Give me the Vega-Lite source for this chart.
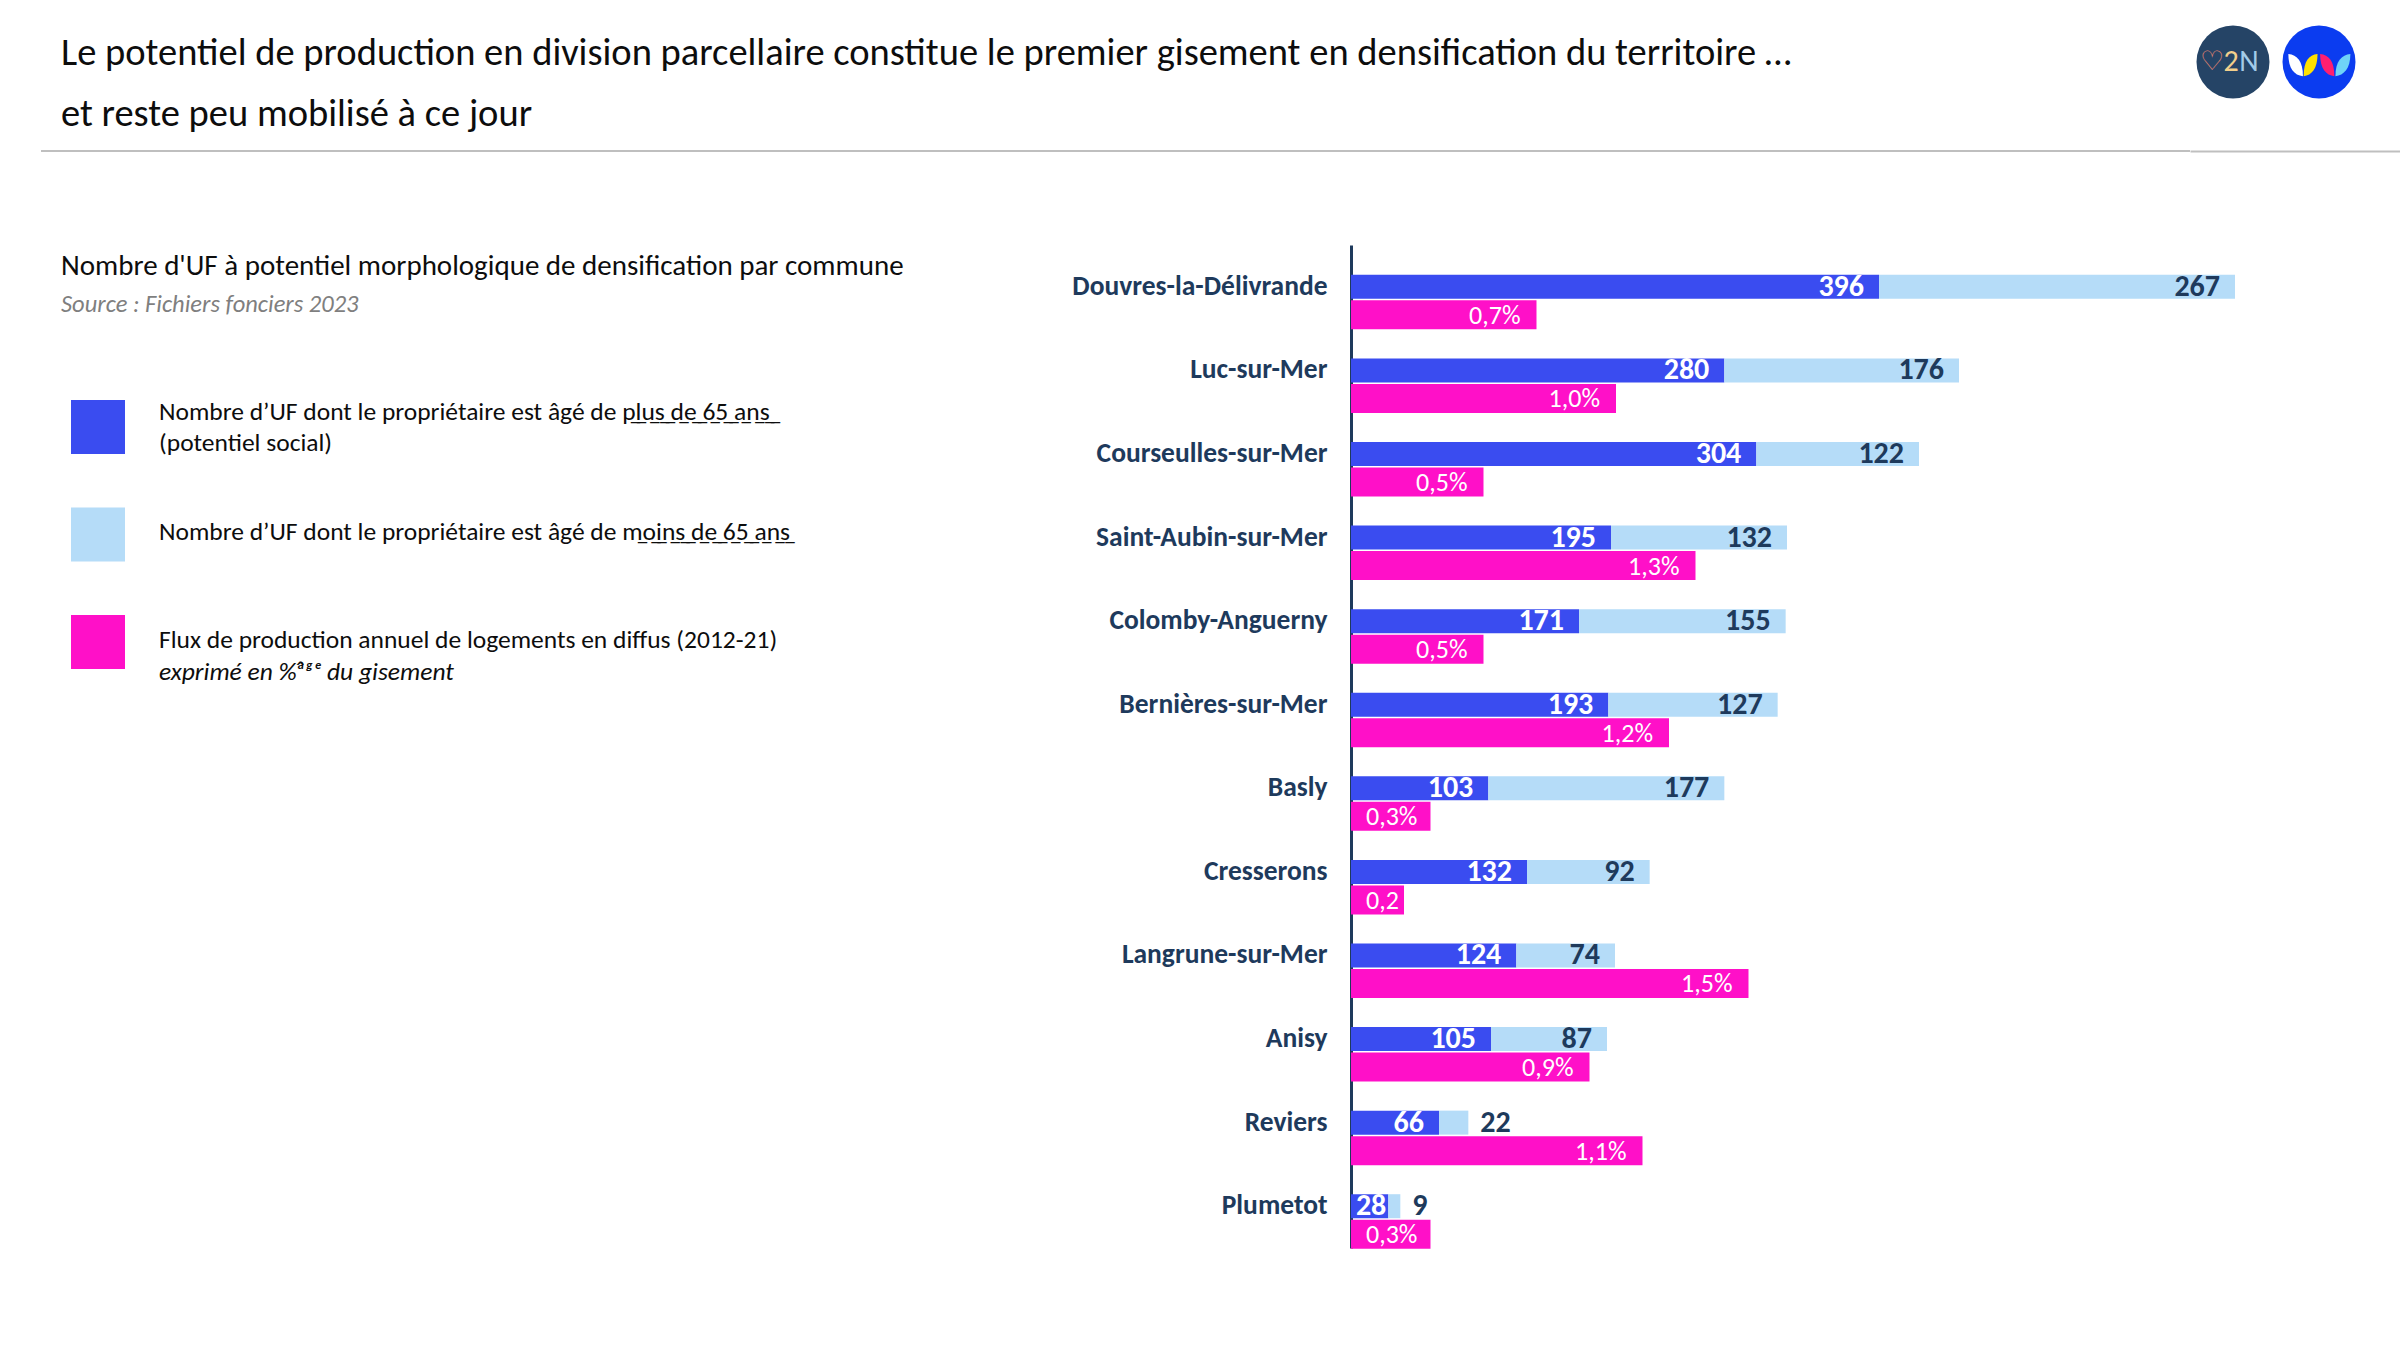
{
  "$schema": "https://vega.github.io/schema/vega-lite/v6.json",
  "background": "white",
  "padding": {"left": 40, "top": 24, "right": 0, "bottom": 0},
  "autosize": {"type": "pad"},
  "config": {
    "view": {"stroke": null},
    "font": "Carlito, Lato, sans-serif",
    "locale": {
      "number": {"decimal": ",", "thousands": "\u00a0", "grouping": [3], "currency": ["", "\u00a0€"], "percent": "%"}
    }
  },
  "datasets": {
    "uf": [
      {"commune": "Douvres-la-Délivrande", "serie": "plus de 65 ans", "uf": 396},
      {"commune": "Douvres-la-Délivrande", "serie": "moins de 65 ans", "uf": 267},
      {"commune": "Luc-sur-Mer", "serie": "plus de 65 ans", "uf": 280},
      {"commune": "Luc-sur-Mer", "serie": "moins de 65 ans", "uf": 176},
      {"commune": "Courseulles-sur-Mer", "serie": "plus de 65 ans", "uf": 304},
      {"commune": "Courseulles-sur-Mer", "serie": "moins de 65 ans", "uf": 122},
      {"commune": "Saint-Aubin-sur-Mer", "serie": "plus de 65 ans", "uf": 195},
      {"commune": "Saint-Aubin-sur-Mer", "serie": "moins de 65 ans", "uf": 132},
      {"commune": "Colomby-Anguerny", "serie": "plus de 65 ans", "uf": 171},
      {"commune": "Colomby-Anguerny", "serie": "moins de 65 ans", "uf": 155},
      {"commune": "Bernières-sur-Mer", "serie": "plus de 65 ans", "uf": 193},
      {"commune": "Bernières-sur-Mer", "serie": "moins de 65 ans", "uf": 127},
      {"commune": "Basly", "serie": "plus de 65 ans", "uf": 103},
      {"commune": "Basly", "serie": "moins de 65 ans", "uf": 177},
      {"commune": "Cresserons", "serie": "plus de 65 ans", "uf": 132},
      {"commune": "Cresserons", "serie": "moins de 65 ans", "uf": 92},
      {"commune": "Langrune-sur-Mer", "serie": "plus de 65 ans", "uf": 124},
      {"commune": "Langrune-sur-Mer", "serie": "moins de 65 ans", "uf": 74},
      {"commune": "Anisy", "serie": "plus de 65 ans", "uf": 105},
      {"commune": "Anisy", "serie": "moins de 65 ans", "uf": 87},
      {"commune": "Reviers", "serie": "plus de 65 ans", "uf": 66},
      {"commune": "Reviers", "serie": "moins de 65 ans", "uf": 22},
      {"commune": "Plumetot", "serie": "plus de 65 ans", "uf": 28},
      {"commune": "Plumetot", "serie": "moins de 65 ans", "uf": 9}
    ],
    "flux": [
      {"commune": "Douvres-la-Délivrande", "serie": "flux annuel", "flux": 0.007},
      {"commune": "Luc-sur-Mer", "serie": "flux annuel", "flux": 0.010},
      {"commune": "Courseulles-sur-Mer", "serie": "flux annuel", "flux": 0.005},
      {"commune": "Saint-Aubin-sur-Mer", "serie": "flux annuel", "flux": 0.013},
      {"commune": "Colomby-Anguerny", "serie": "flux annuel", "flux": 0.005},
      {"commune": "Bernières-sur-Mer", "serie": "flux annuel", "flux": 0.012},
      {"commune": "Basly", "serie": "flux annuel", "flux": 0.003},
      {"commune": "Cresserons", "serie": "flux annuel", "flux": 0.002},
      {"commune": "Langrune-sur-Mer", "serie": "flux annuel", "flux": 0.015},
      {"commune": "Anisy", "serie": "flux annuel", "flux": 0.009},
      {"commune": "Reviers", "serie": "flux annuel", "flux": 0.011},
      {"commune": "Plumetot", "serie": "flux annuel", "flux": 0.003}
    ],
    "legende": [
      {"serie": "plus de 65 ans", "ligne1": "Nombre d’UF dont le propriétaire est âgé de p̲l̲u̲s̲ ̲d̲e̲ ̲6̲5̲ ̲a̲n̲s̲ ̲", "ligne2": "(potentiel social)"},
      {"serie": "moins de 65 ans", "ligne1": "Nombre d’UF dont le propriétaire est âgé de m̲o̲i̲n̲s̲ ̲d̲e̲ ̲6̲5̲ ̲a̲n̲s̲", "ligne2": ""},
      {"serie": "flux annuel", "ligne1": "Flux de production annuel de logements en diffus (2012-21)", "ligne2": "exprimé en %ᵃ̂ᵍᵉ du gisement"}
    ],
    "logos": [
      {"logo": "c2n"},
      {"logo": "urbanis"}
    ],
    "filet": [
      {"trait": "séparation"}
    ]
  },
  "bounds": "flush",
  "spacing": 221,
  "vconcat": [
    {
      "bounds": "flush",
      "spacing": 0,
      "hconcat": [
        {
          "width": 2149,
          "height": 127,
          "title": {
            "text": [
              "Le potentiel de production en division parcellaire constitue le premier gisement en densification du territoire …",
              "et reste peu mobilisé à ce jour"
            ],
            "anchor": "start",
            "frame": "group",
            "orient": "top",
            "baseline": "alphabetic",
            "dx": 20,
            "dy": 144,
            "fontSize": 38.5,
            "fontWeight": "normal",
            "color": "#0d0d0d",
            "lineHeight": 61,
            "limit": 3000
          },
          "data": {"name": "filet"},
          "mark": {"type": "rule", "color": "#bfbfbf", "strokeWidth": 2},
          "encoding": {
            "y": {"datum": 0, "type": "quantitative", "scale": {"domain": [0, 1]}, "axis": null}
          }
        },
        {
          "width": 211,
          "height": 76,
          "data": {"name": "logos"},
          "encoding": {
            "x": {
              "field": "logo",
              "type": "nominal",
              "scale": {"type": "band", "domain": ["c2n", "urbanis"], "paddingInner": 0, "paddingOuter": 0.2267, "align": 0},
              "axis": {
                "orient": "bottom",
                "offset": 51,
                "domainColor": "#bfbfbf",
                "domainWidth": 2,
                "ticks": false,
                "labels": false,
                "title": null,
                "grid": false
              }
            }
          },
          "layer": [
            {
              "transform": [{"filter": "datum.logo == 'c2n'"}],
              "mark": {"type": "point", "shape": "circle", "filled": true, "size": 5329, "color": "#254466", "opacity": 1}
            },
            {
              "transform": [{"filter": "datum.logo == 'c2n'"}],
              "mark": {"type": "text", "text": "♡", "dx": -21, "fontSize": 27, "color": "#e8876f", "baseline": "middle"}
            },
            {
              "transform": [{"filter": "datum.logo == 'c2n'"}],
              "mark": {"type": "text", "text": "2", "dx": -2, "fontSize": 30, "color": "#f2cf8c", "baseline": "middle"}
            },
            {
              "transform": [{"filter": "datum.logo == 'c2n'"}],
              "mark": {"type": "text", "text": "N", "dx": 16, "fontSize": 30, "color": "#a3cbe8", "baseline": "middle"}
            },
            {
              "transform": [{"filter": "datum.logo == 'urbanis'"}],
              "mark": {"type": "point", "shape": "circle", "filled": true, "size": 5329, "color": "#0b3cf0", "opacity": 1}
            },
            {
              "transform": [{"filter": "datum.logo == 'urbanis'"}],
              "mark": {"type": "point", "filled": true, "size": 5329, "color": "#ffffff", "opacity": 1, "strokeWidth": 0,
                "shape": "M-0.84,-0.22 C-0.6,-0.2 -0.44,-0.02 -0.44,0.39 C-0.68,0.36 -0.84,0.18 -0.84,-0.22 Z"}
            },
            {
              "transform": [{"filter": "datum.logo == 'urbanis'"}],
              "mark": {"type": "point", "filled": true, "size": 5329, "color": "#ffe100", "opacity": 1, "strokeWidth": 0,
                "shape": "M-0.04,-0.22 C-0.28,-0.2 -0.42,-0.02 -0.42,0.39 C-0.2,0.36 -0.04,0.18 -0.04,-0.22 Z"}
            },
            {
              "transform": [{"filter": "datum.logo == 'urbanis'"}],
              "mark": {"type": "point", "filled": true, "size": 5329, "color": "#ff1f70", "opacity": 1, "strokeWidth": 0,
                "shape": "M0.03,-0.22 C0.27,-0.2 0.42,-0.02 0.42,0.39 C0.19,0.36 0.03,0.18 0.03,-0.22 Z"}
            },
            {
              "transform": [{"filter": "datum.logo == 'urbanis'"}],
              "mark": {"type": "point", "filled": true, "size": 5329, "color": "#6fd3f7", "opacity": 1, "strokeWidth": 0,
                "shape": "M0.86,-0.22 C0.62,-0.2 0.45,-0.02 0.45,0.39 C0.68,0.36 0.86,0.18 0.86,-0.22 Z"}
            }
          ]
        }
      ]
    },
    {
      "bounds": "flush",
      "spacing": 1196,
      "hconcat": [
        {
          "width": 114,
          "height": 537.5,
          "title": {
            "text": "Nombre d'UF à potentiel morphologique de densification par commune",
            "subtitle": "Source : Fichiers fonciers 2023",
            "anchor": "start",
            "frame": "group",
            "orient": "top",
            "dx": 20,
            "dy": 75,
            "fontSize": 29,
            "fontWeight": "normal",
            "color": "#0d0d0d",
            "subtitleFontSize": 24.5,
            "subtitleFontStyle": "italic",
            "subtitleColor": "#7f7f7f",
            "subtitlePadding": 12,
            "limit": 3000
          },
          "data": {"name": "legende"},
          "encoding": {
            "y": {
              "field": "serie",
              "type": "nominal",
              "sort": null,
              "scale": {"type": "band", "paddingInner": 0, "paddingOuter": 1, "align": 0.5965},
              "axis": null
            }
          },
          "layer": [
            {
              "mark": {"type": "square", "size": 2916, "opacity": 1},
              "encoding": {
                "color": {
                  "field": "serie",
                  "type": "nominal",
                  "scale": {"domain": ["plus de 65 ans", "moins de 65 ans", "flux annuel"], "range": ["#3a4cf0", "#b5dcf8", "#ff10c8"]},
                  "legend": null
                }
              }
            },
            {
              "transform": [{"filter": "datum.serie != 'plus de 65 ans'"}],
              "mark": {"type": "text", "align": "left", "baseline": "alphabetic", "dx": 61, "dy": 6, "fontSize": 25.5, "color": "#0d0d0d"},
              "encoding": {"text": {"field": "ligne1", "type": "nominal"}}
            },
            {
              "transform": [{"filter": "datum.serie == 'plus de 65 ans'"}],
              "mark": {"type": "text", "align": "left", "baseline": "alphabetic", "dx": 61, "dy": -7, "fontSize": 25.5, "color": "#0d0d0d"},
              "encoding": {"text": {"field": "ligne1", "type": "nominal"}}
            },
            {
              "transform": [{"filter": "datum.serie == 'plus de 65 ans'"}],
              "mark": {"type": "text", "align": "left", "baseline": "alphabetic", "dx": 61, "dy": 24, "fontSize": 25.5, "color": "#0d0d0d"},
              "encoding": {"text": {"field": "ligne2", "type": "nominal"}}
            },
            {
              "transform": [{"filter": "datum.serie == 'flux annuel'"}],
              "mark": {"type": "text", "align": "left", "baseline": "alphabetic", "dx": 61, "dy": 38, "fontSize": 25.5, "fontStyle": "italic", "color": "#0d0d0d"},
              "encoding": {"text": {"field": "ligne2", "type": "nominal"}}
            }
          ]
        },
        {
          "width": 1000,
          "height": 1003,
          "encoding": {
            "y": {
              "field": "commune",
              "type": "nominal",
              "sort": ["Douvres-la-Délivrande", "Luc-sur-Mer", "Courseulles-sur-Mer", "Saint-Aubin-sur-Mer", "Colomby-Anguerny", "Bernières-sur-Mer", "Basly", "Cresserons", "Langrune-sur-Mer", "Anisy", "Reviers", "Plumetot"],
              "scale": {"type": "band", "paddingInner": 0, "paddingOuter": 0},
              "axis": {
                "title": null,
                "domain": true,
                "domainColor": "#1e3a5c",
                "domainWidth": 3,
                "ticks": false,
                "tickSize": 0,
                "grid": false,
                "labelFontSize": 27.5,
                "labelFontWeight": "bold",
                "labelColor": "#1e3a5c",
                "labelPadding": 24,
                "labelLimit": 600
              }
            }
          },
          "layer": [
            {
              "data": {"name": "uf"},
              "encoding": {
                "x": {
                  "field": "uf",
                  "type": "quantitative",
                  "stack": "zero",
                  "scale": {"domain": [0, 750], "nice": false, "zero": true},
                  "axis": null
                },
                "order": {"field": "serie", "sort": "descending"},
                "detail": {"field": "serie"}
              },
              "layer": [
                {
                  "mark": {"type": "bar", "height": 24},
                  "encoding": {
                    "color": {
                      "field": "serie",
                      "type": "nominal",
                      "scale": {"domain": ["plus de 65 ans", "moins de 65 ans", "flux annuel"], "range": ["#3a4cf0", "#b5dcf8", "#ff10c8"]},
                      "legend": null
                    }
                  }
                },
                {
                  "mark": {"type": "text", "align": "right", "baseline": "middle", "dx": -15, "fontSize": 30, "fontWeight": "bold"},
                  "encoding": {
                    "text": {"condition": {"test": "datum.uf >= 50", "field": "uf", "type": "quantitative"}, "value": ""},
                    "color": {"condition": {"test": "datum.serie == 'plus de 65 ans'", "value": "#ffffff"}, "value": "#1e3a5c"}
                  }
                },
                {
                  "mark": {"type": "text", "align": "right", "baseline": "middle", "dx": -2, "fontSize": 30, "fontWeight": "bold", "color": "#ffffff"},
                  "encoding": {
                    "text": {"condition": {"test": "datum.uf < 50 && datum.serie == 'plus de 65 ans'", "field": "uf", "type": "quantitative"}, "value": ""}
                  }
                },
                {
                  "mark": {"type": "text", "align": "left", "baseline": "middle", "dx": 12, "fontSize": 30, "fontWeight": "bold", "color": "#1e3a5c"},
                  "encoding": {
                    "text": {"condition": {"test": "datum.uf < 50 && datum.serie == 'moins de 65 ans'", "field": "uf", "type": "quantitative"}, "value": ""}
                  }
                }
              ]
            },
            {
              "data": {"name": "flux"},
              "layer": [
                {
                  "mark": {"type": "bar", "height": 29, "yOffset": 28},
                  "encoding": {
                    "x": {
                      "field": "flux",
                      "type": "quantitative",
                      "scale": {"domain": [0, 0.037736], "nice": false, "zero": true},
                      "axis": null
                    },
                    "color": {
                      "field": "serie",
                      "type": "nominal",
                      "scale": {"domain": ["plus de 65 ans", "moins de 65 ans", "flux annuel"], "range": ["#3a4cf0", "#b5dcf8", "#ff10c8"]},
                      "legend": null
                    }
                  }
                },
                {
                  "transform": [{"filter": "datum.flux >= 0.004"}],
                  "mark": {"type": "text", "align": "right", "baseline": "middle", "dx": -16, "yOffset": 29, "fontSize": 26, "color": "#ffffff"},
                  "encoding": {
                    "x": {"field": "flux", "type": "quantitative"},
                    "text": {"field": "flux", "type": "quantitative", "format": ".1%"}
                  }
                },
                {
                  "transform": [{"filter": "datum.flux >= 0.0025 && datum.flux < 0.004"}],
                  "mark": {"type": "text", "align": "left", "baseline": "middle", "dx": 15, "yOffset": 29, "fontSize": 26, "color": "#ffffff"},
                  "encoding": {
                    "x": {"datum": 0, "type": "quantitative"},
                    "text": {"field": "flux", "type": "quantitative", "format": ".1%"}
                  }
                },
                {
                  "transform": [{"filter": "datum.flux < 0.0025"}],
                  "mark": {"type": "text", "align": "left", "baseline": "middle", "dx": 15, "yOffset": 29, "fontSize": 26, "color": "#ffffff", "limit": 34, "ellipsis": "\u200b"},
                  "encoding": {
                    "x": {"datum": 0, "type": "quantitative"},
                    "text": {"field": "flux", "type": "quantitative", "format": ".1%"}
                  }
                }
              ]
            }
          ],
          "resolve": {"scale": {"x": "independent"}}
        }
      ]
    }
  ]
}
